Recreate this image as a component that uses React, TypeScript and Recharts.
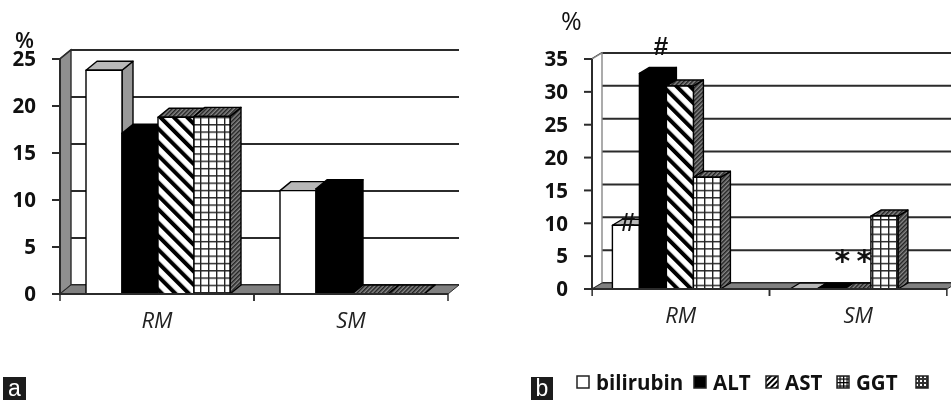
import { BarChart, Bar, XAxis, YAxis, CartesianGrid, Legend, LabelList, ReferenceArea } from 'recharts'

const categories = ['RM', 'SM']

const bilirubinA = [23.8, 11]
const altA = [17.1, 11.2]
const astA = [18.8, 0]
const ggtA = [18.9, 0]
const ticksA = [0, 5, 10, 15, 20, 25]

const bilirubinB = [9.7, 0]
const altB = [32.8, 0]
const astB = [30.9, 0]
const ggtB = [17, 11.1]
const otherB = [null, null]
const ticksB = [0, 5, 10, 15, 20, 25, 30, 35]

const bilirubinHash = ['#', null]
const altHash = ['#', null]
const altStar = [null, '*']
const astStar = [null, '*']

const dataA = categories.map((name, i) => ({
  name,
  bilirubin: bilirubinA[i],
  alt: altA[i],
  ast: astA[i],
  ggt: ggtA[i],
}))

const dataB = categories.map((name, i) => ({
  name,
  bilirubin: bilirubinB[i],
  alt: altB[i],
  ast: astB[i],
  ggt: ggtB[i],
  other: otherB[i],
  bilirubinHash: bilirubinHash[i],
  altHash: altHash[i],
  altStar: altStar[i],
  astStar: astStar[i],
}))

const FONT = '"Open Sans", sans-serif'
const LINE = '#2b2b2b'

// fill colours of the three visible faces per series
const faces = {
  bilirubin: { front: '#fff', side: '#999', top: '#b8b8b8' },
  alt: { front: '#000', side: '#000', top: '#000' },
  ast: { front: 'url(#hatch)', side: 'url(#hatchDark)', top: 'url(#hatchDark)' },
  ggt: { front: 'url(#squares)', side: 'url(#hatchDark)', top: 'url(#hatchDark)' },
}

function Box3D({ x, y, width, height, face, dx, dy }: any) {
  const r = x + width
  const b = y + height
  return (
    <g stroke="#000" strokeWidth={1.4} strokeLinejoin="round">
      <polygon points={`${r},${y} ${r + dx},${y - dy} ${r + dx},${b - dy} ${r},${b}`} fill={face.side} />
      <polygon points={`${x},${y} ${x + dx},${y - dy} ${r + dx},${y - dy} ${r},${y}`} fill={face.top} />
      {height > 0 && <rect x={x} y={y} width={width} height={height} fill={face.front} />}
    </g>
  )
}

// back wall and floor of the 3D box
function Walls({ x, y, width, height, dx, dy, wall, edge }: any) {
  const b = y + height
  return (
    <g>
      <polygon points={`${x},${y} ${x + dx},${y - dy} ${x + dx},${b - dy} ${x},${b}`} fill={wall} stroke={edge} strokeWidth={1.4} />
      <polygon
        points={`${x},${b} ${x + dx},${b - dy} ${x + width + dx},${b - dy} ${x + width},${b}`}
        fill="#808080"
        stroke={LINE}
        strokeWidth={1}
      />
    </g>
  )
}

const gridLine = (dx: number, dy: number) => (p: any) => (
  <polyline
    key={`grid-${p.index}`}
    points={`${p.x1},${p.y1} ${p.x1 + dx},${p.y1 - dy} ${p.x2 + dx},${p.y1 - dy}`}
    fill="none"
    stroke={LINE}
    strokeWidth={2}
  />
)

const categoryTick = (half: number, labelY: number) => (p: any) => (
  <g>
    <line x1={p.x - half} x2={p.x - half} y1={p.y - 8} y2={p.y - 1} stroke={LINE} strokeWidth={1.5} />
    <line x1={p.x + half} x2={p.x + half} y1={p.y - 8} y2={p.y - 1} stroke={LINE} strokeWidth={1.5} />
    <text x={p.x} y={p.y + labelY} textAnchor="middle" fontFamily={FONT} fontStyle="italic" fontSize={22} fill="#222">
      {p.payload.value}
    </text>
  </g>
)

const markLabel = (dx: number, dy: number, family: string, size: number, weight = 400) => (p: any) =>
  p.value ? (
    <text x={p.x + p.width / 2 + dx} y={p.y + dy} textAnchor="middle" fontFamily={family} fontSize={size} fontWeight={weight} fill="#111">
      {p.value}
    </text>
  ) : null

const swatchFill: Record<string, string> = {
  bilirubin: '#fff',
  alt: '#000',
  ast: 'url(#hatchSmall)',
  ggt: 'url(#squaresSmall)',
  other: 'url(#dotsSmall)',
}

const legendLefts = [576, 693, 765, 836, 915]

function LegendRow({ payload }: any) {
  return (
    <div style={{ position: 'relative', width: 376, height: 24 }}>
      {(payload || []).map((entry: any, i: number) => (
        <div key={entry.dataKey} style={{ position: 'absolute', left: legendLefts[i] - 575, top: 0, display: 'flex', alignItems: 'center', height: 24 }}>
          <svg width={14} height={14} style={{ display: 'block' }}>
            <rect x={1} y={1} width={12} height={12} fill={swatchFill[entry.dataKey]} stroke="#222" strokeWidth={1.5} />
          </svg>
          <span style={{ marginLeft: 6, fontFamily: FONT, fontWeight: 700, fontSize: 20.5, color: '#111', lineHeight: '24px', whiteSpace: 'pre' }}>
            {entry.value}
          </span>
        </div>
      ))}
    </div>
  )
}

const tagStyle = {
  position: 'absolute' as const,
  top: 377,
  height: 23,
  background: '#1c1c1c',
  color: '#fff',
  fontFamily: '"Liberation Sans", sans-serif',
  fontSize: 23,
  lineHeight: '23px',
  textAlign: 'center' as const,
}

const axisTick = { fontFamily: FONT, fontWeight: 700, fontSize: 20.5, fill: '#111' }

function PanelA() {
  const dx = 11
  const dy = 9
  const shape = (key: keyof typeof faces) => (p: any) => <Box3D {...p} face={faces[key]} dx={dx} dy={dy} />
  return (
    <BarChart
      width={475}
      height={340}
      data={dataA}
      margin={{ top: 59, right: 27, bottom: 16, left: 0 }}
      barCategoryGap={26}
      barGap={0}
      style={{ position: 'absolute', left: 0, top: 0 }}
    >
      <ReferenceArea y1={0} y2={25} shape={(p: any) => <Walls {...p} dx={dx} dy={dy} wall="#8f8f8f" edge={LINE} />} />
      <CartesianGrid vertical={false} horizontal={gridLine(dx, dy)} />
      <XAxis dataKey="name" height={30} stroke={LINE} strokeWidth={2} tickLine={false} tickSize={8} tickMargin={0} tick={categoryTick(97, 26)} interval={0} />
      <YAxis width={60} domain={[0, 25]} ticks={ticksA} interval={0} stroke={LINE} strokeWidth={2} tickSize={8} tickMargin={16} tick={axisTick} />
      <Bar dataKey="bilirubin" isAnimationActive={false} shape={shape('bilirubin')} />
      <Bar dataKey="alt" isAnimationActive={false} shape={shape('alt')} />
      <Bar dataKey="ast" isAnimationActive={false} shape={shape('ast')} />
      <Bar dataKey="ggt" isAnimationActive={false} shape={shape('ggt')} />
    </BarChart>
  )
}

function PanelB() {
  const dx = 10
  const dy = 6
  const shape = (key: keyof typeof faces) => (p: any) => <Box3D {...p} face={faces[key]} dx={dx} dy={dy} />
  return (
    <BarChart
      width={471}
      height={401}
      data={dataB}
      margin={{ top: 59, right: 4, bottom: 60, left: 50 }}
      barCategoryGap={20.4}
      barGap={0}
      style={{ position: 'absolute', left: 480, top: 0 }}
    >
      <ReferenceArea y1={0} y2={35} shape={(p: any) => <Walls {...p} dx={dx} dy={dy} wall="#fff" edge="#888" />} />
      <CartesianGrid vertical={false} horizontal={gridLine(dx, dy)} />
      <XAxis dataKey="name" height={30} stroke={LINE} strokeWidth={2} tickLine={false} tickSize={8} tickMargin={0} tick={categoryTick(88.6, 26)} interval={0} />
      <YAxis width={62} domain={[0, 35]} ticks={ticksB} interval={0} stroke={LINE} strokeWidth={2} tickSize={8} tickMargin={16} tick={axisTick} />
      <Legend
        verticalAlign="bottom"
        height={22}
        width={376}
        itemSorter={null}
        content={<LegendRow />}
        wrapperStyle={{ position: 'absolute', left: 95, top: 370, bottom: 'auto', height: 22 }}
      />
      <Bar dataKey="bilirubin" name="bilirubin" isAnimationActive={false} shape={shape('bilirubin')}>
        <LabelList dataKey="bilirubinHash" content={markLabel(2, 6, '"Liberation Sans", sans-serif', 26, 700)} />
      </Bar>
      <Bar dataKey="alt" name="ALT" isAnimationActive={false} shape={shape('alt')}>
        <LabelList dataKey="altHash" content={markLabel(8, -18, '"Liberation Sans", sans-serif', 26, 700)} />
        <LabelList dataKey="altStar" content={markLabel(12, -18, '"DejaVu Sans", sans-serif', 30, 700)} />
      </Bar>
      <Bar dataKey="ast" name="AST" isAnimationActive={false} shape={shape('ast')}>
        <LabelList dataKey="astStar" content={markLabel(7, -18, '"DejaVu Sans", sans-serif', 30, 700)} />
      </Bar>
      <Bar dataKey="ggt" name="GGT" isAnimationActive={false} shape={shape('ggt')} />
      <Bar dataKey="other" name=" " isAnimationActive={false} />
    </BarChart>
  )
}

export default function App() {
  return (
    <div style={{ position: 'absolute', left: 0, top: 0, width: 951, height: 401, background: '#fff', overflow: 'hidden', filter: 'blur(0.5px)' }}>
      <svg width={0} height={0} style={{ position: 'absolute' }}>
        <defs>
          <pattern id="hatch" width={9.5} height={9.5} patternUnits="userSpaceOnUse" patternTransform="rotate(-45)">
            <rect width={9.5} height={9.5} fill="#fff" />
            <rect width={4} height={9.5} fill="#000" />
          </pattern>
          <pattern id="hatchDark" width={3} height={3} patternUnits="userSpaceOnUse" patternTransform="rotate(45)">
            <rect width={3} height={3} fill="#888" />
            <rect width={1.5} height={3} fill="#222" />
          </pattern>
          <pattern id="squares" width={8} height={7.3} patternUnits="userSpaceOnUse">
            <rect width={8} height={7.3} fill="#fff" />
            <rect width={1.4} height={7.3} fill="#222" />
            <rect width={8} height={1.4} fill="#222" />
          </pattern>
          <pattern id="hatchSmall" width={4} height={4} patternUnits="userSpaceOnUse" patternTransform="rotate(45)">
            <rect width={4} height={4} fill="#fff" />
            <rect width={2} height={4} fill="#000" />
          </pattern>
          <pattern id="squaresSmall" width={3.5} height={3.5} patternUnits="userSpaceOnUse">
            <rect width={3.5} height={3.5} fill="#fff" />
            <rect width={1.2} height={3.5} fill="#000" />
            <rect width={3.5} height={1.2} fill="#000" />
          </pattern>
          <pattern id="dotsSmall" width={4} height={4} patternUnits="userSpaceOnUse">
            <rect width={4} height={4} fill="#333" />
            <rect x={1} y={1} width={2} height={2} fill="#fff" />
          </pattern>
        </defs>
      </svg>
      <div style={{ position: 'absolute', left: 15, top: 24, fontFamily: FONT, fontWeight: 600, fontSize: 22, color: '#111', lineHeight: '30px' }}>%</div>
      <div style={{ position: 'absolute', left: 561, top: 5, fontFamily: FONT, fontWeight: 500, fontSize: 25, color: '#111', lineHeight: '30px' }}>%</div>
      <PanelA />
      <PanelB />
      <div style={{ ...tagStyle, left: 3, width: 23 }}>a</div>
      <div style={{ ...tagStyle, left: 531, width: 22 }}>b</div>
    </div>
  )
}
